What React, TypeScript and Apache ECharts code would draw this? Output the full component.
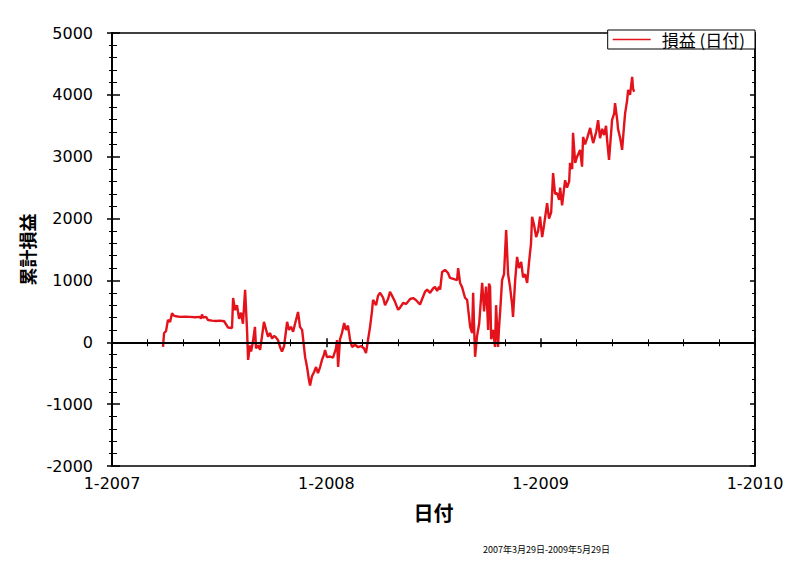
import React, { useEffect, useRef } from "react";
import * as echarts from "echarts";

// Trading date expressed as a decimal year (2007.238 ≈ 2007-03-29)
const dateYears = [
  2007.238, 2007.243, 2007.252, 2007.261, 2007.271, 2007.280, 2007.289, 2007.299, 2007.317, 2007.341,
  2007.364, 2007.387, 2007.411, 2007.415, 2007.420, 2007.425, 2007.439, 2007.448, 2007.467, 2007.485,
  2007.504, 2007.523, 2007.541, 2007.560, 2007.565, 2007.574, 2007.583, 2007.593, 2007.602, 2007.611,
  2007.621, 2007.625, 2007.630, 2007.635, 2007.644, 2007.649, 2007.658, 2007.667, 2007.672, 2007.681,
  2007.691, 2007.700, 2007.709, 2007.719, 2007.728, 2007.737, 2007.747, 2007.756, 2007.765, 2007.775,
  2007.784, 2007.793, 2007.803, 2007.817, 2007.826, 2007.835, 2007.845, 2007.854, 2007.868, 2007.877,
  2007.887, 2007.901, 2007.910, 2007.919, 2007.924, 2007.933, 2007.943, 2007.952, 2007.961, 2007.971,
  2007.980, 2007.989, 2007.994, 2008.003, 2008.017, 2008.031, 2008.045, 2008.050, 2008.055, 2008.064,
  2008.073, 2008.083, 2008.092, 2008.101, 2008.111, 2008.120, 2008.134, 2008.148, 2008.162, 2008.176,
  2008.185, 2008.195, 2008.204, 2008.213, 2008.218, 2008.232, 2008.241, 2008.251, 2008.265, 2008.274,
  2008.288, 2008.297, 2008.307, 2008.321, 2008.335, 2008.344, 2008.358, 2008.372, 2008.391, 2008.405,
  2008.419, 2008.437, 2008.447, 2008.461, 2008.470, 2008.484, 2008.498, 2008.507, 2008.517, 2008.526,
  2008.531, 2008.540, 2008.554, 2008.568, 2008.577, 2008.596, 2008.610, 2008.615, 2008.624, 2008.633,
  2008.647, 2008.657, 2008.671, 2008.680, 2008.685, 2008.689, 2008.694, 2008.703, 2008.713, 2008.727,
  2008.736, 2008.745, 2008.750, 2008.755, 2008.759, 2008.764, 2008.769, 2008.778, 2008.787, 2008.792,
  2008.801, 2008.806, 2008.811, 2008.820, 2008.829, 2008.839, 2008.848, 2008.857, 2008.867, 2008.871,
  2008.881, 2008.890, 2008.899, 2008.909, 2008.918, 2008.927, 2008.937, 2008.946, 2008.955, 2008.960,
  2008.969, 2008.979, 2008.988, 2008.997, 2009.007, 2009.016, 2009.030, 2009.039, 2009.049, 2009.058,
  2009.067, 2009.077, 2009.086, 2009.091, 2009.100, 2009.114, 2009.123, 2009.133, 2009.137, 2009.147,
  2009.151, 2009.161, 2009.170, 2009.184, 2009.193, 2009.198, 2009.207, 2009.217, 2009.231, 2009.240,
  2009.245, 2009.259, 2009.268, 2009.277, 2009.287, 2009.296, 2009.305, 2009.310, 2009.319, 2009.329,
  2009.333, 2009.343, 2009.347, 2009.357, 2009.361, 2009.371, 2009.380, 2009.389, 2009.394, 2009.403,
  2009.408, 2009.417, 2009.427, 2009.431, 2009.436,
];

// Cumulative profit / loss
const pnl = [
  -75, 150, 180, 360, 330, 470, 430, 420, 410, 415,
  410, 405, 410, 380, 450, 400, 410, 360, 350, 345,
  350, 340, 240, 230, 715, 520, 600, 380, 480, 300,
  850, 560, 200, -285, -50, -150, 20, 250, -100, -50,
  -120, 100, 330, 200, 90, 150, 60, 100, 80, 30,
  -75, -150, -60, 330, 200, 250, 170, 300, 490, 250,
  200, -240, -400, -610, -700, -550, -480, -400, -500, -400,
  -280, -200, -125, -240, -230, -250, -100, 35, -400, 50,
  150, 310, 200, 270, 35, -75, -40, -80, -60, -100,
  -175, 50, 250, 500, 685, 600, 750, 800, 720, 600,
  700, 815, 750, 650, 525, 560, 635, 620, 700, 715,
  680, 610, 700, 820, 850, 800, 870, 895, 830, 900,
  850, 1135, 1170, 1120, 1040, 1020, 1005, 1200, 960, 895,
  720, 685, 250, 150, 800, 300, -235, 100, 300, 960,
  500, 900, 600, 200, 950, 900, 50, 200, -75, 600,
  -75, 250, 500, 1005, 1100, 1815, 1100, 900, 600, 410,
  1000, 1380, 1200, 1300, 1050, 1100, 960, 1300, 1600, 2030,
  1900, 1700, 1800, 2030, 1700, 1900, 2250, 2000, 2100, 2735,
  2400, 2410, 2300, 2500, 2215, 2620, 2500, 2600, 2900, 2800,
  3385, 2900, 3000, 3110, 2840, 3320, 3200, 3300, 3465, 3300,
  3220, 3400, 3590, 3300, 3450, 3350, 3500, 3270, 2950, 3400,
  3590, 3700, 3865, 3600, 3450, 3300, 3110, 3500, 3700, 3900,
  4080, 4000, 4290, 4100, 4050,
];

const xRange = [2007, 2010];
const yRange = [-2000, 5000];
const seriesName = "損益 (日付)";
const xName = "日付";
const yName = "累計損益";
const caption = "2007年3月29日-2009年5月29日";

export default function App() {
  const ref = useRef<HTMLDivElement>(null);
  useEffect(() => {
    const chart = echarts.init(ref.current!, null, { renderer: "svg" });
    const data = dateYears.map((t, i) => [t, pnl[i]]);
    const numFont = "DejaVu Sans";
    const cjkFont = "Noto Sans CJK JP";
    const black = "#000";
    const red = "#e3121b";

    const xBase: any = {
      type: "value",
      min: xRange[0],
      max: xRange[1],
      interval: 1,
      position: "bottom",
      splitLine: { show: false },
      minorSplitLine: { show: false },
    };
    const yBase: any = {
      type: "value",
      min: yRange[0],
      max: yRange[1],
      interval: 1000,
      splitLine: { show: false },
      minorSplitLine: { show: false },
    };

    chart.setOption({
      animation: false,
      backgroundColor: "#fff",
      grid: {
        left: 112,
        right: 47,
        top: 33,
        bottom: 97,
        show: true,
        borderColor: black,
        borderWidth: 1.5,
        backgroundColor: "transparent",
        containLabel: false,
        outerBoundsMode: "none",
      },
      legend: {
        show: true,
        right: 47,
        top: 30,
        backgroundColor: "#fff",
        borderColor: black,
        borderWidth: 1,
        borderRadius: 0,
        padding: [1, 10, 1, 5],
        itemWidth: 38,
        itemHeight: 1.5,
        itemGap: 0,
        icon: "rect",
        itemStyle: { color: red, borderWidth: 0 },
        textStyle: { fontSize: 17, color: black, fontFamily: cjkFont, padding: [0, 0, 0, 6] },
        data: [seriesName],
      },
      xAxis: [
        {
          ...xBase,
          axisLine: { show: true, lineStyle: { color: black, width: 2 } },
          axisTick: { show: true, inside: false, length: 5, lineStyle: { color: black, width: 1.5 } },
          minorTick: { show: true, splitNumber: 6, length: 4, lineStyle: { color: black, width: 1 } },
          axisLabel: {
            formatter: (v: number) => "1-" + String(v),
            color: black,
            fontSize: 16,
            fontFamily: numFont,
            margin: 9,
          },
          name: xName,
          nameLocation: "middle",
          nameGap: 36,
          nameTextStyle: { fontSize: 20, fontWeight: "bold", color: black, fontFamily: cjkFont },
        },
        {
          ...xBase,
          axisLine: { show: false },
          axisTick: { show: true, inside: true, length: 4, lineStyle: { color: black, width: 1.5 } },
          minorTick: { show: true, splitNumber: 6, length: 3, lineStyle: { color: black, width: 1 } },
          axisLabel: { show: false },
        },
      ],
      yAxis: [
        {
          ...yBase,
          position: "left",
          axisLine: { show: true, lineStyle: { color: black, width: 2 } },
          axisTick: { show: true, inside: false, length: 5, lineStyle: { color: black, width: 1.5 } },
          minorTick: { show: true, splitNumber: 5, length: 3, lineStyle: { color: black, width: 1 } },
          axisLabel: {
            formatter: (v: number) => String(v),
            color: black,
            fontSize: 16,
            fontFamily: numFont,
            margin: 19,
          },
          name: yName,
          nameLocation: "middle",
          nameGap: 70,
          nameRotate: 90,
          nameTextStyle: { fontSize: 18, fontWeight: "bold", color: black, fontFamily: cjkFont },
        },
        {
          ...yBase,
          position: "left",
          axisLine: { show: false },
          axisTick: { show: true, inside: true, length: 8, lineStyle: { color: black, width: 1.5 } },
          minorTick: { show: true, splitNumber: 5, length: 5, lineStyle: { color: black, width: 1 } },
          axisLabel: { show: false },
        },
        {
          ...yBase,
          position: "right",
          axisLine: { show: true, lineStyle: { color: black, width: 1.5 } },
          axisTick: { show: true, inside: true, length: 5, lineStyle: { color: black, width: 1.5 } },
          minorTick: { show: true, splitNumber: 5, length: 3, lineStyle: { color: black, width: 1 } },
          axisLabel: { show: false },
        },
      ],
      series: [
        {
          name: seriesName,
          type: "line",
          xAxisIndex: 0,
          yAxisIndex: 0,
          data,
          showSymbol: false,
          symbol: "none",
          color: red,
          itemStyle: { color: red },
          lineStyle: { color: red, width: 2.4 },
          markLine: {
            silent: true,
            symbol: ["none", "none"],
            label: { show: false },
            lineStyle: { color: black, width: 2, type: "solid" },
            data: [{ yAxis: 0 }],
          },
        },
      ],
      graphic: [
        {
          type: "text",
          left: 483,
          top: 545,
          style: { text: caption, fontSize: 9, fill: black, fontFamily: cjkFont },
        },
      ],
    });
    return () => chart.dispose();
  }, []);
  return (
    <div
      ref={ref}
      style={{ position: "fixed", left: 0, top: 0, width: 802, height: 563, background: "#fff" }}
    />
  );
}
